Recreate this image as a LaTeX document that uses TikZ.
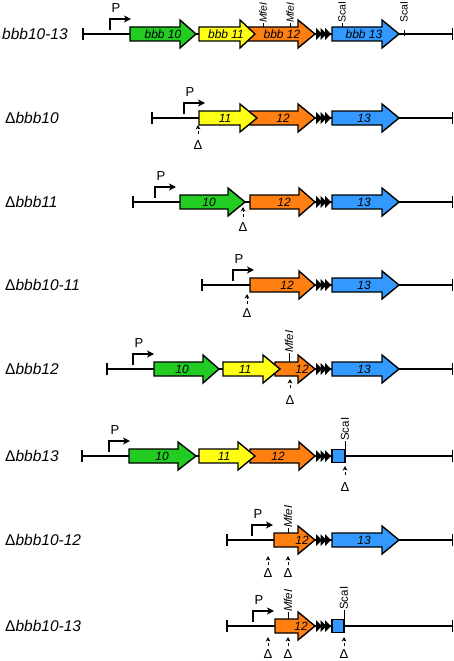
\documentclass[tikz,border=0pt]{standalone}
\usepackage{fontspec}
\setmainfont{Liberation Sans}
\usetikzlibrary{arrows.meta}
\definecolor{ggreen}{RGB}{34,204,34}
\definecolor{gyellow}{RGB}{255,255,20}
\definecolor{gorange}{RGB}{255,128,16}
\definecolor{gblue}{RGB}{51,153,255}
\tikzset{
 dna/.style={line width=1.4pt},
 genebox/.style={draw=black,line width=1.4pt,line join=miter},
 genelbl/.style={font=\fontsize{12}{12}\selectfont\itshape, inner sep=0pt},
 rowlbl/.style={anchor=west,font=\fontsize{15.5}{16}\selectfont, inner sep=0pt},
 promo/.style={line width=1.4pt,-{Stealth[length=7pt,width=7pt,inset=2pt]}},
 plbl/.style={font=\fontsize{13}{13}\selectfont, inner sep=0pt},
 dmark/.style={line width=0.9pt,densely dashed,-{Stealth[length=4.5pt,width=4.5pt]}},
 dlbl/.style={font=\fontsize{13}{13}\selectfont, inner sep=0pt},
 site/.style={line width=1pt},
 sitelbl/.style={font=\fontsize{11.5}{12}\selectfont, rotate=90, anchor=west, inner sep=0pt},
 sitelbltop/.style={sitelbl, font=\fontsize{10.5}{11}\selectfont},
}
% name, x0, xh, xt, colour, label, label x
\newcommand\genearr[7]{%
 \filldraw[genebox,fill=#5] (#2,-7) -- (#3,-7) -- (#3,-14) -- (#4,0) -- (#3,14) -- (#3,7) -- (#2,7) -- cycle;
 \node[genelbl] (#1) at (#7,0) {#6};}
% name, xl, xr
\newcommand\backbone[3]{%
 \draw[dna] (#2,0) coordinate (#1L) -- (#3,0) coordinate (#1R);
 \draw[dna] (#2,-6) -- (#2,6);
 \draw[dna] (#3,-6) -- (#3,6);}
\newcommand\termin{%
 \fill (316,-6) -- (322,0) -- (316,6) -- cycle;
 \fill (320.5,-6) -- (326.5,0) -- (320.5,6) -- cycle;
 \fill (325,-6) -- (331,0) -- (325,6) -- cycle;}
% name, x
\newcommand\prom[2]{%
 \coordinate (#1a) at (#2,4);
 \coordinate (#1b) at ({#2+21},15);
 \draw[promo] (#1a) |- (#1b);
 \node[plbl] (#1P) at ({#2+6},26) {P};}
% name, x, tip, tail, text
\newcommand\delmark[5]{%
 \coordinate (#1t) at (#2,-#3);
 \coordinate (#1s) at (#2,-#4);
 \draw[dmark] (#1s) -- (#1t);
 \node[dlbl] (#1D) at (#2,-#5) {Δ};}
% name, x, tick from, tick to, text
\newcommand\rsite[5]{%
 \draw[site] (#2,#3) -- (#2,#4);
 \node[sitelbl] (#1) at (#2,#4) {#5};}
\begin{document}
\begin{tikzpicture}[x=1pt,y=1pt]
\useasboundingbox (0,0) rectangle (454,-661);
% row 1
\begin{scope}[yshift=-34pt]
 \node[rowlbl] (l1) at (2,0) {\itshape bbb10-13};
 \backbone{b1}{83}{452.5}
 \prom{p1}{110}
 \genearr{g1a}{130}{180}{196}{ggreen}{bbb 10}{163}
 \genearr{g1c}{245}{298}{315}{gorange}{bbb 12}{282}
 \genearr{g1b}{199}{240}{255}{gyellow}{bbb 11}{226}
 \termin
 \genearr{g1d}{332}{382}{399}{gblue}{bbb 13}{364}
 \draw[site] (263,7) -- (263,11);
 \node[sitelbltop] (r1a) at (263,11) {\itshape MfeI};
 \draw[site] (290,7) -- (290,11);
 \node[sitelbltop] (r1b) at (290,11) {\itshape MfeI};
 \draw[site] (342,7) -- (342,11);
 \node[sitelbltop] (r1c) at (342,11) {ScaI};
 \draw[site] (404,-2) -- (404,4);
 \node[sitelbltop] (r1d) at (404,11) {ScaI};
\end{scope}
% row 2
\begin{scope}[yshift=-118pt]
 \node[rowlbl] (l2) at (5,0) {Δ\itshape bbb10};
 \backbone{b2}{152}{452.5}
 \prom{p2}{184}
 \genearr{g2c}{250}{298}{315}{gorange}{12}{283}
 \genearr{g2b}{199}{240}{257}{gyellow}{11}{225}
 \termin
 \genearr{g2d}{332}{382}{399}{gblue}{13}{364}
 \delmark{d2}{198}{7}{16}{27}
\end{scope}
% row 3
\begin{scope}[yshift=-202pt]
 \node[rowlbl] (l3) at (5,0) {Δ\itshape bbb11};
 \backbone{b3}{133}{452.5}
 \prom{p3}{155}
 \genearr{g3a}{180}{228}{245}{ggreen}{10}{209}
 \genearr{g3c}{250}{299}{315}{gorange}{12}{284}
 \termin
 \genearr{g3d}{332}{382}{399}{gblue}{13}{364}
 \delmark{d3}{243}{5}{15}{25}
\end{scope}
% row 4
\begin{scope}[yshift=-285pt]
 \node[rowlbl] (l4) at (5,0) {Δ\itshape bbb10-11};
 \backbone{b4}{202}{452.5}
 \prom{p4}{233}
 \genearr{g4c}{250}{299}{315}{gorange}{12}{287}
 \termin
 \genearr{g4d}{332}{382}{399}{gblue}{13}{364}
 \delmark{d4}{247}{9}{19}{28}
\end{scope}
% row 5
\begin{scope}[yshift=-369pt]
 \node[rowlbl] (l5) at (5,0) {Δ\itshape bbb12};
 \backbone{b5}{107}{452.5}
 \prom{p5}{133}
 \genearr{g5a}{154}{203}{219}{ggreen}{10}{182}
 \genearr{g5c}{275}{298}{315}{gorange}{12}{302}
 \genearr{g5b}{223}{263}{280}{gyellow}{11}{245}
 \termin
 \genearr{g5d}{332}{382}{399}{gblue}{13}{364}
 \rsite{r5a}{289}{7}{16}{\itshape MfeI}
 \delmark{d5}{290}{10}{19}{31}
\end{scope}
% row 6
\begin{scope}[yshift=-456pt]
 \node[rowlbl] (l6) at (5,0) {Δ\itshape bbb13};
 \backbone{b6}{82}{452.5}
 \prom{p6}{109}
 \genearr{g6a}{129}{178}{196}{ggreen}{10}{162}
 \genearr{g6c}{250}{299}{315}{gorange}{12}{278}
 \genearr{g6b}{199}{238}{255}{gyellow}{11}{224}
 \termin
 \filldraw[genebox,fill=gblue] (332,-6.5) rectangle (345,6.5);
 \rsite{r6a}{345}{6.5}{15}{ScaI}
 \delmark{d6}{345}{10}{19}{31}
\end{scope}
% row 7
\begin{scope}[yshift=-540pt]
 \node[rowlbl] (l7) at (5,0) {Δ\itshape bbb10-12};
 \backbone{b7}{227}{452.5}
 \prom{p7}{252}
 \genearr{g7c}{274}{298}{315}{gorange}{12}{302}
 \termin
 \genearr{g7d}{332}{382}{399}{gblue}{13}{364}
 \rsite{r7a}{288}{7}{12}{\itshape MfeI}
 \delmark{d7a}{268}{16}{25}{33}
 \delmark{d7b}{288}{16}{25}{33}
\end{scope}
% row 8
\begin{scope}[yshift=-626pt]
 \node[rowlbl] (l8) at (5,0) {Δ\itshape bbb10-13};
 \backbone{b8}{227}{452.5}
 \prom{p8}{253}
 \genearr{g8c}{275}{298}{315}{gorange}{12}{301}
 \termin
 \filldraw[genebox,fill=gblue] (332,-6.5) rectangle (344,6.5);
 \rsite{r8a}{288}{7}{14}{\itshape MfeI}
 \rsite{r8b}{344}{6.5}{16}{ScaI}
 \delmark{d8a}{268}{11}{20}{28.5}
 \delmark{d8b}{288}{11}{20}{28.5}
 \delmark{d8c}{344}{11}{20}{28.5}
\end{scope}
\end{tikzpicture}
\end{document}
